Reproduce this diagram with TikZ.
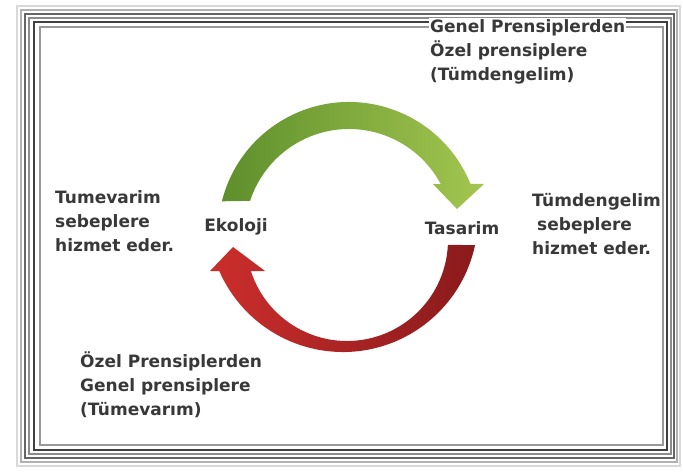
\documentclass[tikz,border=0pt]{standalone}
\usepackage{fontspec}
\setmainfont{DejaVu Sans}
\usetikzlibrary{calc}
\definecolor{txtgray}{HTML}{383838}
\definecolor{grnL}{HTML}{5E8F2C}
\definecolor{grnR}{HTML}{A3C64F}
\definecolor{redL}{HTML}{CC2E2C}
\definecolor{redR}{HTML}{8A1A1C}
\begin{document}
\begin{tikzpicture}[x=1pt,y=1pt,
  lbl/.style={font=\bfseries\fontsize{17}{24}\selectfont, text=txtgray, align=left, inner sep=0pt}]
  \useasboundingbox (0,0) rectangle (683,474);
  \fill[white] (0,0) rectangle (683,474);
  \foreach \l/\b/\r/\t/\c in {40/29/663/447/gray!80, 34/24/667/452/black!75, 29/20/671/456/gray!90,
    25/16/674/460/black!60, 21/12/677/464/gray!60, 17/8/680/468/gray!30}{%
    \draw[\c, line width=1.1pt] (\l,\b) rectangle (\r,\t);
  }
  \coordinate (gc) at (349,241);
  \coordinate (rc) at (343,257);
  \coordinate (rci) at (347,234);
  \shade[left color=grnL, right color=grnR] ($(gc)+(166:131)$) arc[start angle=166, end angle=22, radius=131]
    -- (484,290) -- (457,265) -- (433,290) -- ($(gc)+(28:104)$) arc[start angle=28, end angle=162, radius=104] -- cycle;
  \shade[left color=redL, right color=redR] ($(rc)+(-12:135)$) arc[start angle=-12, end angle=-156.4, radius=135]
    -- (210,203) -- (233,227) -- (265,203) -- ($(rci)+(-162.1:101)$) arc[start angle=-162.1, end angle=-2.8, radius=101] -- cycle;
  \node (eko)[lbl] at (236,247) {Ekoloji};
  \node (tas)[lbl] at (462,246) {Tasarim};
  \node (tumv)[lbl, anchor=west] at (55,252.5) {Tumevarim\\sebeplere\\hizmet eder.};
  \node (tumd)[lbl, anchor=west] at (532,250) {Tümdengelim\\\hspace*{5pt}sebeplere\\hizmet eder.};
  % the top label sits over the frame lines
  \node (gen)[lbl, anchor=west, fill=white, inner sep=1pt] at (429,422.5) {Genel Prensiplerden\\Özel prensiplere\\(Tümdengelim)};
  \node (oz)[lbl, anchor=west] at (80,89) {Özel Prensiplerden\\Genel prensiplere\\(Tümevarım)};
\end{tikzpicture}
\end{document}
